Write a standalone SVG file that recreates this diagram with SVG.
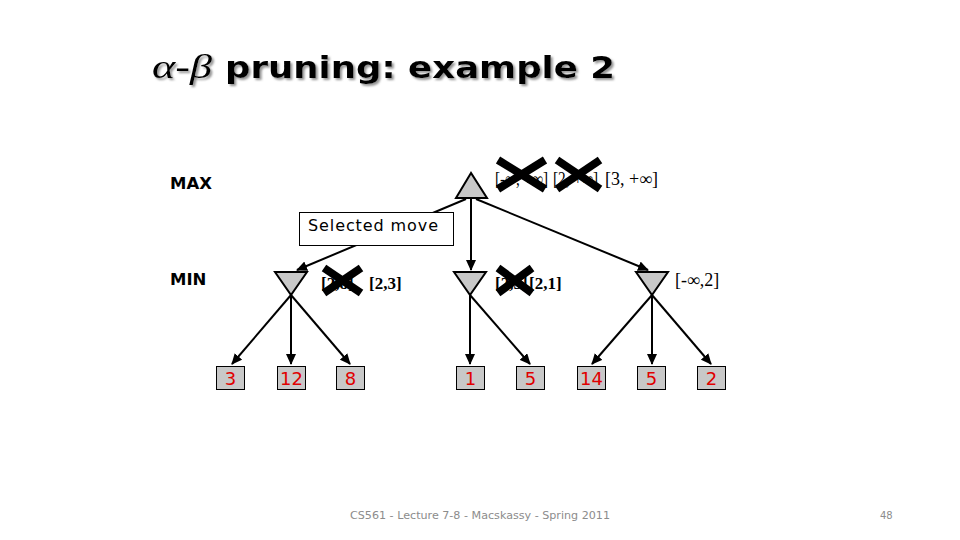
<svg xmlns="http://www.w3.org/2000/svg" width="960" height="540" viewBox="0 0 960 540">
<defs>
<marker id="arr" markerUnits="userSpaceOnUse" markerWidth="11" markerHeight="10" refX="10" refY="5" orient="auto">
<path d="M0,0 L11,5 L0,10 z" fill="#000"/>
</marker>
<filter id="shadow" x="-5%" y="-20%" width="110%" height="150%">
<feDropShadow dx="2" dy="2" stdDeviation="1" flood-color="#888" flood-opacity="0.9"/>
</filter>
<style>
.edge{stroke:#000;stroke-width:2;fill:none;marker-end:url(#arr)}
.tri{fill:#c8c8c8;stroke:#000;stroke-width:2}
.leaf{fill:#c8c8c8;stroke:#000;stroke-width:1}
.num{font-family:"DejaVu Sans",Verdana,sans-serif;font-size:18px;fill:#e00000;text-anchor:middle}
.lvl{font-family:"DejaVu Sans",Verdana,sans-serif;font-size:16.5px;font-weight:bold;fill:#000}
.lab{font-family:"Liberation Serif","Times New Roman",serif;font-size:18px;fill:#000}
.labb{font-family:"Liberation Serif","Times New Roman",serif;font-size:17px;font-weight:bold;fill:#000}
.x{stroke:#000;stroke-width:8;stroke-linecap:butt}
.foot{font-family:"DejaVu Sans",Verdana,sans-serif;font-size:10px;fill:#8c8c8c}
</style>
</defs>
<rect width="960" height="540" fill="#fff"/>

<g id="title" filter="url(#shadow)">
<text x="152" y="78" font-family="Liberation Serif,'Times New Roman',serif" font-style="italic" font-size="34" textLength="60" lengthAdjust="spacingAndGlyphs">α-β</text>
<text x="225" y="78" font-family="'DejaVu Sans',Verdana,sans-serif" font-weight="bold" font-size="31" textLength="390" lengthAdjust="spacingAndGlyphs">pruning: example 2</text>
</g>

<g id="levels">
<text class="lvl" x="170" y="189">MAX</text>
<text class="lvl" x="170" y="285">MIN</text>
</g>

<g id="connectors">
<line class="edge" x1="466" y1="199" x2="297" y2="270"/>
<line class="edge" x1="471" y1="198" x2="471" y2="270"/>
<line class="edge" x1="476" y1="199" x2="648" y2="270"/>
<line class="edge" x1="291" y1="295" x2="232" y2="364"/>
<line class="edge" x1="291" y1="295" x2="291" y2="364"/>
<line class="edge" x1="291" y1="295" x2="350" y2="364"/>
<line class="edge" x1="470" y1="295" x2="470" y2="364"/>
<line class="edge" x1="470" y1="295" x2="530" y2="364"/>
<line class="edge" x1="652" y1="295" x2="592" y2="364"/>
<line class="edge" x1="652" y1="295" x2="652" y2="364"/>
<line class="edge" x1="652" y1="295" x2="711" y2="364"/>
</g>

<g id="selected-move">
<rect x="299.5" y="212.5" width="154" height="33" fill="#fff" stroke="#000" stroke-width="1"/>
<text x="308" y="231" font-family="'DejaVu Sans',Verdana,sans-serif" font-size="16" textLength="130" lengthAdjust="spacing">Selected move</text>
</g>

<g id="max-root">
<polygon class="tri" points="471,173 456,198 487,198"/>
<text class="lab" x="495" y="185" textLength="53" lengthAdjust="spacingAndGlyphs">[-∞, +∞]</text>
<text class="lab" x="553" y="185" textLength="45" lengthAdjust="spacingAndGlyphs">[2, +∞]</text>
<line class="x" x1="498" y1="160" x2="545" y2="189"/>
<line class="x" x1="498" y1="189" x2="545" y2="160"/>
<line class="x" x1="557" y1="160" x2="600" y2="189"/>
<line class="x" x1="557" y1="189" x2="600" y2="160"/>
<text class="lab" x="605" y="185">[3, +∞]</text>
</g>

<g id="min-1">
<polygon class="tri" points="275,272 307,272 291,295"/>
<text class="labb" x="321" y="289">[2,8]</text>
<line class="x" x1="324" y1="268" x2="361" y2="293"/>
<line class="x" x1="324" y1="293" x2="361" y2="268"/>
<text class="labb" x="369" y="289">[2,3]</text>
</g>

<g id="min-2">
<polygon class="tri" points="454,272 486,272 470,295"/>
<text class="labb" x="495" y="289">[2,5]</text>
<line class="x" x1="498" y1="268" x2="532" y2="293"/>
<line class="x" x1="498" y1="293" x2="532" y2="268"/>
<text class="labb" x="529" y="289">[2,1]</text>
</g>

<g id="min-3">
<polygon class="tri" points="636,272 668,272 652,295"/>
<text class="lab" x="675" y="286">[-∞,2]</text>
</g>

<g id="leaf-3"><rect class="leaf" x="216.5" y="366.5" width="28" height="23"/><text class="num" x="230.5" y="385">3</text></g>
<g id="leaf-12"><rect class="leaf" x="277.5" y="366.5" width="28" height="23"/><text class="num" x="291.5" y="385">12</text></g>
<g id="leaf-8"><rect class="leaf" x="336.5" y="366.5" width="28" height="23"/><text class="num" x="350.5" y="385">8</text></g>
<g id="leaf-1"><rect class="leaf" x="456.5" y="366.5" width="28" height="23"/><text class="num" x="470.5" y="385">1</text></g>
<g id="leaf-5a"><rect class="leaf" x="516.5" y="366.5" width="28" height="23"/><text class="num" x="530.5" y="385">5</text></g>
<g id="leaf-14"><rect class="leaf" x="577.5" y="366.5" width="28" height="23"/><text class="num" x="591.5" y="385">14</text></g>
<g id="leaf-5b"><rect class="leaf" x="637.5" y="366.5" width="28" height="23"/><text class="num" x="651.5" y="385">5</text></g>
<g id="leaf-2"><rect class="leaf" x="697.5" y="366.5" width="28" height="23"/><text class="num" x="711.5" y="385">2</text></g>

<g id="footer">
<text class="foot" x="350" y="519" textLength="260" lengthAdjust="spacingAndGlyphs">CS561 - Lecture 7-8 - Macskassy - Spring 2011</text>
<text class="foot" x="880" y="519">48</text>
</g>
</svg>
